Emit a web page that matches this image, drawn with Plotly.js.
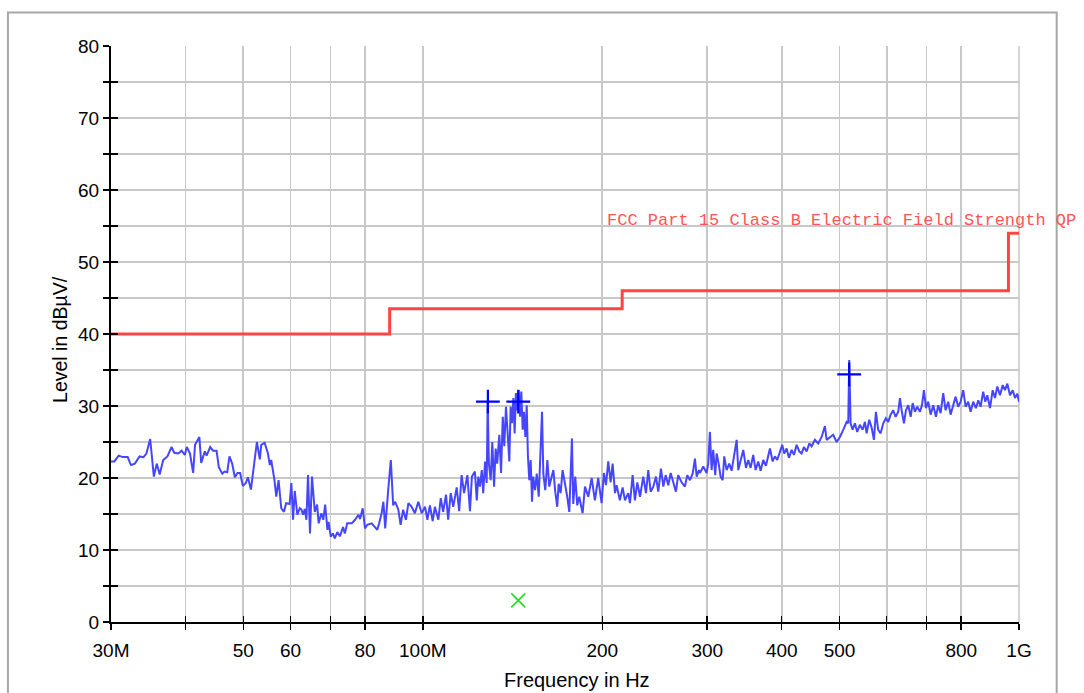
<!DOCTYPE html>
<html>
<head>
<meta charset="utf-8">
<script src="https://cdn.plot.ly/plotly-3.0.1.min.js"></script>
<style>
  html, body { margin: 0; padding: 0; background: #ffffff; }
  #chart { width: 1084px; height: 693px; }
</style>
</head>
<body>
<div id="chart"></div>
<script>
// ---- Measured level (blue trace) : frequency in MHz, level in dBµV/m ----
const measFreq = [
  30.0,30.4,30.9,31.4,32.0,32.4,32.9,33.5,34.0,34.4,34.9,35.4,35.8,36.2,36.7,37.3,37.9,38.3,38.9,39.4,
  39.9,40.2,40.7,41.2,41.5,42.2,42.5,43.1,43.4,44.0,44.5,45.1,45.5,46.1,46.5,47.0,47.4,47.9,48.4,48.9,
  49.4,49.9,50.5,50.9,51.5,52.0,52.7,53.3,53.6,54.3,55.0,55.4,55.7,56.4,56.8,57.3,57.9,58.5,59.0,59.8,
  60.2,60.6,61.0,61.6,62.2,62.6,63.0,63.4,63.8,64.2,64.7,65.2,65.9,66.5,66.9,67.6,68.1,68.6,69.2,69.5,
  70.1,70.7,71.2,71.9,72.6,73.5,74.0,74.7,76.0,77.0,78.0,78.5,79.3,80.0,80.7,82.1,83.2,83.9,84.5,85.3,
  85.9,86.5,87.5,88.4,89.2,89.9,91.0,91.8,92.7,93.7,94.6,95.8,97.0,98.3,99.6,100.9,101.8,102.8,103.9,104.8,
  106.2,107.2,108.2,109.4,110.3,111.4,112.5,114.0,115.1,116.2,117.3,118.8,120.0,120.9,122.3,123.2,123.9,124.7,125.6,126.3,
  127.2,128.0,128.5,129.1,130.0,130.8,131.7,132.5,133.3,134.4,135.3,136.2,137.0,137.9,138.8,139.7,140.4,141.1,141.9,142.6,
  143.3,144.1,144.8,145.6,146.3,147.1,147.8,148.6,149.4,150.1,150.9,151.7,152.5,153.2,154.3,155.3,156.5,157.3,158.5,159.3,
  160.5,161.8,163.0,164.3,165.6,166.8,168.1,169.0,170.3,171.6,173.4,174.7,176.1,177.9,178.8,180.2,181.6,183.0,185.4,187.1,
  189.5,192.0,194.4,196.9,199.5,201.3,202.9,204.7,206.6,208.2,210.1,211.4,214.1,216.4,218.3,221.1,222.6,224.9,226.9,229.0,
  231.4,234.3,236.8,238.9,241.1,243.6,246.1,248.3,250.9,253.2,255.5,258.1,260.5,263.1,265.8,268.2,271.7,275.2,277.7,280.6,
  283.6,286.1,288.0,290.5,291.7,295.4,299.3,301.2,303.1,305.1,307.0,309.4,311.1,313.5,315.9,318.4,320.4,323.3,326.6,329.6,
  332.6,336.1,338.2,341.3,344.8,348.4,351.5,354.7,358.3,361.6,365.3,368.7,372.4,376.3,379.7,382.2,386.2,389.6,393.1,397.2,
  400.8,403.9,407.6,411.3,415.6,419.3,423.7,428.0,431.9,435.8,440.4,445.0,448.9,454.7,460.5,466.6,472.6,475.7,481.8,488.0,
  494.4,500.8,508.5,513.9,517.1,519.1,521.9,525.9,530.6,535.4,540.9,546.6,551.6,555.2,560.8,566.0,571.1,575.5,580.6,586.0,
  592.0,598.1,603.5,609.1,615.2,621.0,627.3,631.4,635.6,641.2,646.2,652.0,658.1,663.2,669.1,675.0,682.2,687.4,692.7,698.1,
  704.3,710.9,718.1,725.6,732.1,738.8,746.3,753.2,760.8,767.9,775.7,782.9,790.8,798.1,806.2,813.7,821.9,829.6,837.9,846.7,
  854.3,862.2,870.9,878.0,884.8,894.1,903.4,911.5,919.6,929.3,939.0,947.4,955.8,965.9,976.0,984.7,993.5,1000
];
const measLevel = [
  22.3,22.3,23.1,22.9,22.9,21.8,22.0,23.0,22.9,23.4,25.4,20.2,22.0,20.5,22.5,23.0,24.3,23.5,23.4,23.8,
  23.2,24.3,23.4,20.7,24.6,25.7,22.1,23.7,23.1,24.3,23.8,23.8,21.5,20.6,20.9,20.8,23.0,22.0,20.1,20.7,
  20.7,18.9,19.3,20.1,18.4,21.1,25.0,22.6,24.6,24.9,23.4,21.8,22.5,19.7,17.4,19.7,15.8,15.3,16.5,16.4,
  19.3,14.2,18.2,14.9,15.8,15.6,14.9,15.7,14.2,20.4,12.3,20.2,15.3,16.3,13.7,15.1,14.2,16.3,12.8,13.9,
  11.85,12.3,11.6,12.5,11.9,13.2,12.3,13.7,13.7,14.2,14.9,14.3,15.8,13.0,13.5,13.7,13.2,12.8,13.7,15.1,
  16.7,13.0,18.3,22.5,16.2,16.7,15.6,13.5,15.6,14.2,16.5,16.0,15.1,16.7,15.1,16.0,14.2,16.2,14.0,16.0,
  14.2,17.2,15.3,17.7,14.2,17.9,16.0,18.7,15.4,20.4,17.9,20.4,15.4,20.2,20.9,16.9,20.2,18.8,21.1,17.9,
  22.3,19.3,30.6,22.0,19.7,25.0,18.8,24.1,22.0,26.0,20.7,28.5,24.4,29.9,26.2,22.3,29.9,27.6,31.1,26.2,
  31.8,29.4,32.2,28.5,32.0,26.7,29.2,25.7,30.1,23.0,19.7,22.5,16.7,20.2,18.3,20.6,17.4,21.6,29.2,20.6,
  18.3,22.5,18.8,20.0,21.1,18.1,16.0,19.2,17.9,21.1,19.2,17.4,15.3,25.5,16.4,20.2,16.2,17.4,15.1,18.8,
  17.4,20.0,16.9,20.0,16.5,20.7,19.0,22.3,19.4,22.0,17.9,19.0,16.9,18.7,16.9,17.9,16.5,20.4,16.9,19.4,
  17.4,20.2,17.9,21.1,18.1,18.8,20.2,18.1,21.3,18.8,20.4,19.0,20.7,19.4,18.1,20.4,19.4,18.8,20.4,19.7,
  20.6,22.7,20.2,21.1,20.7,21.6,20.7,22.0,26.4,21.1,23.9,20.4,23.4,22.0,20.2,19.7,23.0,21.1,22.0,21.0,
  23.0,25.3,21.1,22.3,23.9,21.4,22.5,21.4,23.2,21.1,22.3,21.0,22.5,21.7,23.0,24.1,22.3,23.0,22.5,23.6,
  24.6,23.4,24.1,22.8,23.9,23.2,24.6,23.7,23.4,24.3,23.7,24.8,24.4,25.3,24.8,25.7,27.2,25.3,25.6,26.0,
  25.0,25.7,26.9,27.8,27.6,36.4,27.6,26.7,27.6,26.4,27.4,26.7,27.8,26.2,28.1,27.0,25.3,29.2,26.7,26.2,
  27.6,28.3,27.8,28.8,29.4,28.5,29.2,31.1,29.4,27.6,29.4,30.1,28.5,30.4,29.2,29.9,29.2,30.1,32.2,29.7,
  30.6,28.8,30.1,28.5,30.1,29.0,31.8,29.4,30.6,28.8,30.1,31.3,29.9,30.6,32.2,29.9,30.6,29.2,30.6,29.7,
  30.8,29.9,32.0,30.6,31.5,29.7,32.2,31.1,32.7,31.5,32.9,32.2,33.1,31.5,32.2,31.1,31.7,30.6
];

// ---- Limit line: FCC Part 15 Class B (QP), step at band edges ----
const limitFreq  = [30, 88, 216, 960, 1000];
const limitLevel = [40, 43.5, 46, 54, 54];
const limitName  = "FCC Part 15 Class B Electric Field Strength QP";

// ---- Peak markers (+) and QP result (x) ----
const peakFreq  = [128.6, 144.6, 519.0];
const peakLevel = [30.6, 30.6, 34.4];
const qpFreq  = [144.6];
const qpLevel = [3.0];

// ---- Axis ticks ----
const xTickVals = [30, 40, 50, 60, 70, 80, 100, 200, 300, 400, 500, 600, 700, 800, 1000];
const xTickText = ["30M", "", "50", "60", "", "80", "100M", "200", "300", "400", "500", "", "", "800", "1G"];
const yTickVals = [0, 5, 10, 15, 20, 25, 30, 35, 40, 45, 50, 55, 60, 65, 70, 75, 80];
const yTickText = ["0", "", "10", "", "20", "", "30", "", "40", "", "50", "", "60", "", "70", "", "80"];

const xTitle = "Frequency in Hz";
const yTitle = "Level in dBµV/";

const FONT = "Liberation Sans, Arial, sans-serif";
const xRange = [Math.log10(30), Math.log10(1000)];

const traces = [
  {
    x: limitFreq, y: limitLevel, type: "scatter", mode: "lines",
    line: { color: "#ff4444", width: 3, shape: "hv" },
    hoverinfo: "skip", showlegend: false
  },
  {
    x: measFreq, y: measLevel, type: "scatter", mode: "lines",
    line: { color: "#4646ff", width: 2 },
    hoverinfo: "skip", showlegend: false
  },
  {
    x: peakFreq, y: peakLevel, type: "scatter", mode: "markers",
    marker: { symbol: "cross-thin", size: 17, color: "#0000ff", line: { color: "#0000ff", width: 2.2 } },
    hoverinfo: "skip", showlegend: false
  },
  {
    x: qpFreq, y: qpLevel, type: "scatter", mode: "markers",
    marker: { symbol: "x-thin", size: 14, color: "#22dd22", line: { color: "#22dd22", width: 1.6 } },
    hoverinfo: "skip", showlegend: false
  },
  {
    x: [30], y: [0], xaxis: "x2", yaxis: "y2", type: "scatter", mode: "markers",
    marker: { opacity: 0 }, hoverinfo: "skip", showlegend: false
  }
];

const layout = {
  width: 1084, height: 693,
  margin: { l: 111, r: 65, t: 46, b: 71 },
  paper_bgcolor: "#ffffff", plot_bgcolor: "#ffffff",
  font: { family: FONT, size: 19, color: "#000000" },
  showlegend: false,
  xaxis: {
    type: "log", range: xRange,
    tickmode: "array", tickvals: xTickVals, ticktext: xTickText,
    ticks: "outside", ticklen: 6, tickwidth: 1.5, tickcolor: "#000000",
    ticklabelstandoff: 4,
    showgrid: true, gridcolor: "#c8c8c8", gridwidth: 1.6,
    showline: true, linecolor: "#000000", linewidth: 2,
    zeroline: false,
    tickfont: { family: FONT, size: 19, color: "#000000" }
  },
  yaxis: {
    range: [0, 80],
    tickmode: "array", tickvals: yTickVals, ticktext: yTickText,
    ticks: "outside", ticklen: 6, tickwidth: 1.5, tickcolor: "#000000",
    showgrid: true, gridcolor: "#c8c8c8", gridwidth: 1.6,
    showline: true, linecolor: "#000000", linewidth: 2,
    zeroline: false,
    tickfont: { family: FONT, size: 19, color: "#000000" }
  },
  xaxis2: {
    type: "log", range: xRange, overlaying: "x", anchor: "y", side: "bottom",
    tickmode: "array", tickvals: xTickVals,
    ticks: "inside", ticklen: 6, tickwidth: 1.5, tickcolor: "#000000",
    showticklabels: false, showgrid: false, showline: false, zeroline: false
  },
  yaxis2: {
    range: [0, 80], overlaying: "y", anchor: "x", side: "left",
    tickmode: "array", tickvals: yTickVals,
    ticks: "inside", ticklen: 7, tickwidth: 1.5, tickcolor: "#000000",
    showticklabels: false, showgrid: false, showline: false, zeroline: false
  },
  shapes: [
    {
      type: "rect", xref: "paper", yref: "paper",
      x0: -0.1135, x1: 1.0415, y0: -0.2, y1: 1.058,
      line: { color: "#a8a8a8", width: 2 }, fillcolor: "rgba(0,0,0,0)", layer: "below"
    },
    {
      type: "line", xref: "paper", yref: "paper",
      x0: 1, x1: 1, y0: 0, y1: 1,
      line: { color: "#c8c8c8", width: 1.6 }, layer: "below"
    }
  ],
  annotations: [
    {
      text: limitName, xref: "x", yref: "y",
      x: Math.log10(202.5), y: 55.8, xanchor: "left", yanchor: "middle",
      showarrow: false,
      font: { family: "Liberation Mono, DejaVu Sans Mono, monospace", size: 17, color: "#ff5555" }
    },
    {
      text: xTitle, xref: "paper", yref: "paper",
      x: 0.513, y: -0.1, xanchor: "center", yanchor: "middle",
      showarrow: false, font: { family: FONT, size: 20, color: "#000000" }
    },
    {
      text: yTitle, xref: "paper", yref: "paper",
      x: -0.056, y: 0.49, xanchor: "center", yanchor: "middle", textangle: -90,
      showarrow: false, font: { family: FONT, size: 19.5, color: "#000000" }
    }
  ]
};

Plotly.newPlot("chart", traces, layout, { staticPlot: true, displayModeBar: false });
</script>
</body>
</html>
